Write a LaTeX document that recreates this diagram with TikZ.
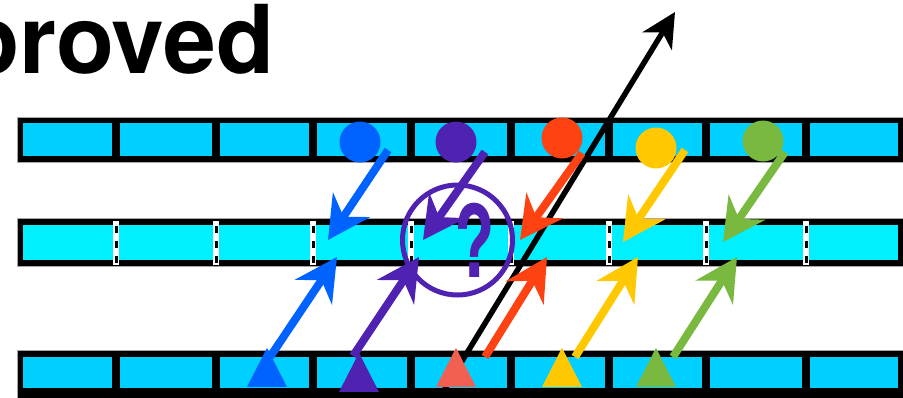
\documentclass[tikz,border=0pt]{standalone}
\usepackage{fontspec}
\setmainfont{TeX Gyre Heros}
\usetikzlibrary{arrows.meta, positioning, shapes.geometric}
\definecolor{cellcyan}{RGB}{0, 208, 255}
\definecolor{cellbright}{RGB}{0, 240, 255}
\definecolor{pblue}{RGB}{0, 98, 255}
\definecolor{ppurple}{RGB}{80, 34, 178}
\definecolor{pred}{RGB}{255, 66, 18}
\definecolor{psalmon}{RGB}{242, 96, 82}
\definecolor{pyellow}{RGB}{255, 200, 0}
\definecolor{pgreen}{RGB}{122, 185, 64}

\begin{document}
\begin{tikzpicture}[x=1pt, y=-1pt,
        bar/.style={fill=black, draw=black!35, line width=1pt},
        cell/.style={fill=cellcyan},
        src/.style={circle, fill=#1, minimum size=41pt, inner sep=0pt},
        tri/.style={isosceles triangle, isosceles triangle apex angle=54,
                    shape border rotate=90, fill=#1, minimum height=39pt, inner sep=0pt, anchor=south},
        move/.style={-{Stealth[length=42pt, width=44pt, inset=14pt]}, line width=8pt, draw=#1},
        time/.style={-{Stealth[length=34pt, width=34pt, inset=10pt]}, line width=5.5pt, draw=black},
    ]
        \useasboundingbox (0,0) rectangle (903,397);
        \clip (0,0) rectangle (903,397);

        \node[anchor=base west, inner sep=0pt, font=\fontsize{95}{95}\selectfont\bfseries] (title) at (-39,73) {proved};

        % three bars
        \path[bar] (17,117) rectangle (908,162);
        \path[bar] (17,218) rectangle (908,266);
        \path[bar] (17,350) rectangle (908,400);
        \foreach \l/\r in {23/112, 120/212, 220/309, 317/407, 415/507, 515/605, 613/702, 710/802, 810/898} {
            \path[cell] (\l,123) rectangle (\r,156);
            \path[cell] (\l,357) rectangle (\r,388);
        }
        \path[fill=cellbright] (23,225) rectangle (898,260);
        \foreach \x in {116, 216, 313, 411, 511, 609, 706, 806} {
            \draw[white, line width=6.5pt] (\x,221) -- (\x,265);
            \draw[black, line width=3pt, dash pattern=on 7pt off 8pt] (\x,226) -- (\x,265);
        }

        \coordinate (tStart) at (437,402);
        \coordinate (tEnd)   at (675,12);
        \draw[time] (tStart) -- (tEnd);

        \node[draw=ppurple, line width=5pt, circle, minimum size=110pt, inner sep=0pt] (ring) at (457.5,240) {};
        \node[text=ppurple, inner sep=0pt, font=\fontsize{100}{100}\selectfont\bfseries] (qm) at (475,240) {\scalebox{0.66}[1]{?}};

        % sources and targets
        \node[src=pblue]   (s1) at (360,142) {};
        \node[src=ppurple] (s2) at (456,142) {};
        \node[src=pred]    (s3) at (562,138) {};
        \node[src=pyellow] (s4) at (656,148) {};
        \node[src=pgreen]  (s5) at (763,141) {};

        \foreach \n/\x/\y in {a1/388/150, a2/485/152, a3/582/153, a4/685/150, a5/785/152,
                              d1/328/240, d2/423/240, d3/520/240, d4/623/242, d5/723/242,
                              b1/270/357, b2/353/356, b3/485/357, b4/575/357, b5/673/357,
                              u1/337/257, u2/419/257, u3/547/257, u4/638/257, u5/737/257} {
            \coordinate (\n) at (\x,\y);
        }

        \foreach \i/\c in {1/pblue, 2/ppurple, 3/pred, 4/pyellow, 5/pgreen} {
            \draw[move=\c] (a\i) -- (d\i);
            \draw[move=\c] (b\i) -- (u\i);
        }

        \node[tri=pblue]   (t1) at (267,387) {};
        \node[tri=ppurple] (t2) at (359,392) {};
        \node[tri=psalmon] (t3) at (456,387) {};
        \node[tri=pyellow] (t4) at (562,387) {};
        \node[tri=pgreen]  (t5) at (656,387) {};
    \end{tikzpicture}
\end{document}
